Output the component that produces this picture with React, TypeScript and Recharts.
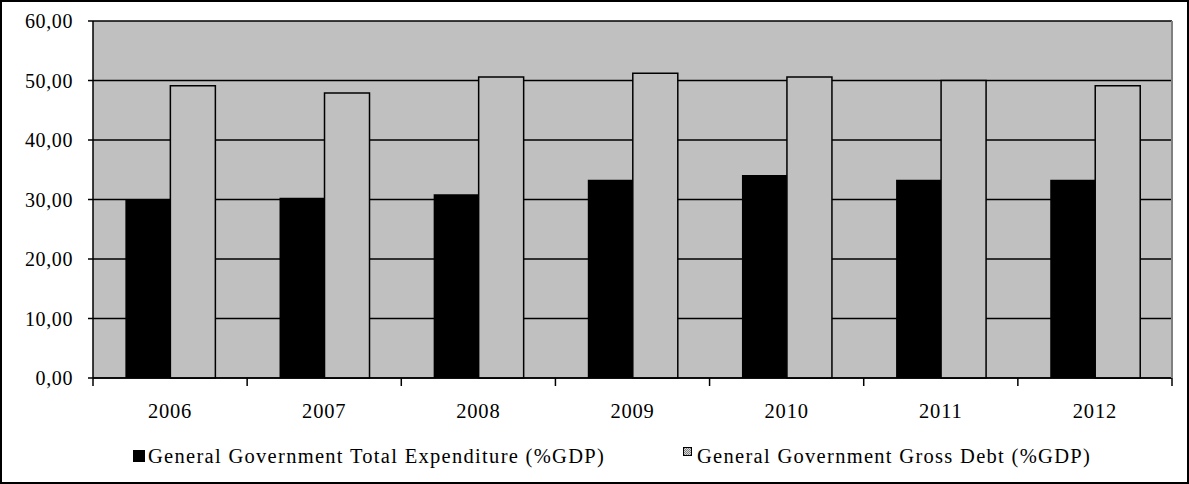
import React from 'react';
import { BarChart, Bar, XAxis, YAxis, CartesianGrid, Legend } from 'recharts';

const years = ['2006', '2007', '2008', '2009', '2010', '2011', '2012'];
const expenditure = [30.05, 30.3, 30.9, 33.3, 34.1, 33.3, 33.3];
const grossDebt = [49.1, 47.9, 50.6, 51.2, 50.6, 50.0, 49.1];
const yTicks = [0, 10, 20, 30, 40, 50, 60];
const seriesNames = [
  'General Government Total Expenditure (%GDP)',
  'General Government Gross Debt (%GDP)',
];

const data = years.map((y, i) => ({ year: y, exp: expenditure[i], debt: grossDebt[i] }));

const FONT = '"Liberation Serif", "Times New Roman", serif';

const XTick = (props: any) => {
  const { x, y, payload, index } = props;
  const axisW = typeof props.width === 'number' && props.width > 100 ? props.width : 1079;
  const band = axisW / years.length;
  return (
    <g>
      <line x1={x - band / 2} x2={x - band / 2} y1={y} y2={y + 8} stroke="#000" strokeWidth={1.5} />
      {index === years.length - 1 && (
        <line x1={x + band / 2} x2={x + band / 2} y1={y} y2={y + 8} stroke="#000" strokeWidth={1.5} />
      )}
      <text x={x} y={y + 40} textAnchor="middle" fontSize={20.5} fontFamily={FONT} fill="#000" letterSpacing={0.8}>
        {payload.value}
      </text>
    </g>
  );
};

const YTick = (props: any) => {
  const { x, y, payload } = props;
  return (
    <text x={x} y={y + 7} textAnchor="end" fontSize={20} fontFamily={FONT} fill="#000" letterSpacing={0.6}>
      {Number(payload.value).toFixed(2).replace('.', ',')}
    </text>
  );
};

const CheckIcon = () => (
  <svg width={9} height={9} style={{ display: 'block' }}>
    <defs>
      <pattern id="chk" width={2} height={2} patternUnits="userSpaceOnUse">
        <rect width={2} height={2} fill="#d8d8d8" />
        <rect width={1} height={1} fill="#808080" />
        <rect x={1} y={1} width={1} height={1} fill="#808080" />
      </pattern>
    </defs>
    <rect x={0.5} y={0.5} width={8} height={8} fill="url(#chk)" stroke="#000" strokeWidth={1} />
  </svg>
);

const LegendContent = () => (
  <div style={{ position: 'relative', height: 24, width: 1189, fontFamily: FONT, fontSize: 20.5, color: '#000' }}>
    <div style={{ position: 'absolute', left: 133, top: 6, width: 12, height: 12, background: '#000' }} />
    <span style={{ position: 'absolute', left: 148, top: 0, lineHeight: '24px', letterSpacing: 1.3, whiteSpace: 'nowrap' }}>
      {seriesNames[0]}
    </span>
    <div style={{ position: 'absolute', left: 683, top: 3 }}>
      <CheckIcon />
    </div>
    <span style={{ position: 'absolute', left: 697, top: 0, lineHeight: '24px', letterSpacing: 1.3, whiteSpace: 'nowrap' }}>
      {seriesNames[1]}
    </span>
  </div>
);

export default function App() {
  return (
    <div style={{ position: 'absolute', left: 0, top: 0, width: 1189, height: 484, background: '#fff' }}>
      <BarChart
        width={1189}
        height={484}
        data={data}
        margin={{ top: 21, right: 0, left: 0, bottom: 0 }}
        barGap={0}
        barCategoryGap="21%"
      >
        <CartesianGrid vertical={false} stroke="#000" strokeWidth={1.5} fill="#C0C0C0" fillOpacity={1} />
        <XAxis
          dataKey="year"
          height={82}
          interval={0}
          tickLine={false}
          tickSize={0}
          tickMargin={0}
          axisLine={{ stroke: '#000', strokeWidth: 1.5 }}
          tick={<XTick />}
        />
        <YAxis
          width={93}
          domain={[0, 60]}
          ticks={yTicks}
          interval={0}
          tickSize={5}
          tickMargin={15}
          axisLine={{ stroke: '#000', strokeWidth: 1.5 }}
          tickLine={{ stroke: '#000', strokeWidth: 1.5 }}
          tick={<YTick />}
        />
        <YAxis
          yAxisId="r"
          orientation="right"
          width={17}
          domain={[0, 60]}
          tick={false}
          tickLine={false}
          axisLine={{ stroke: '#808080', strokeWidth: 2 }}
        />
        <Legend
          verticalAlign="bottom"
          content={<LegendContent />}
          wrapperStyle={{ left: 0, bottom: 16, width: 1189, height: 24 }}
        />
        <Bar dataKey="exp" name={seriesNames[0]} fill="#000" isAnimationActive={false} />
        <Bar dataKey="debt" name={seriesNames[1]} fill="#C0C0C0" stroke="#000" strokeWidth={1.5} isAnimationActive={false} />
      </BarChart>
      <div
        style={{
          position: 'absolute',
          left: 0,
          top: 0,
          width: 1189,
          height: 484,
          boxSizing: 'border-box',
          border: '2px solid #000',
          pointerEvents: 'none',
        }}
      />
    </div>
  );
}
